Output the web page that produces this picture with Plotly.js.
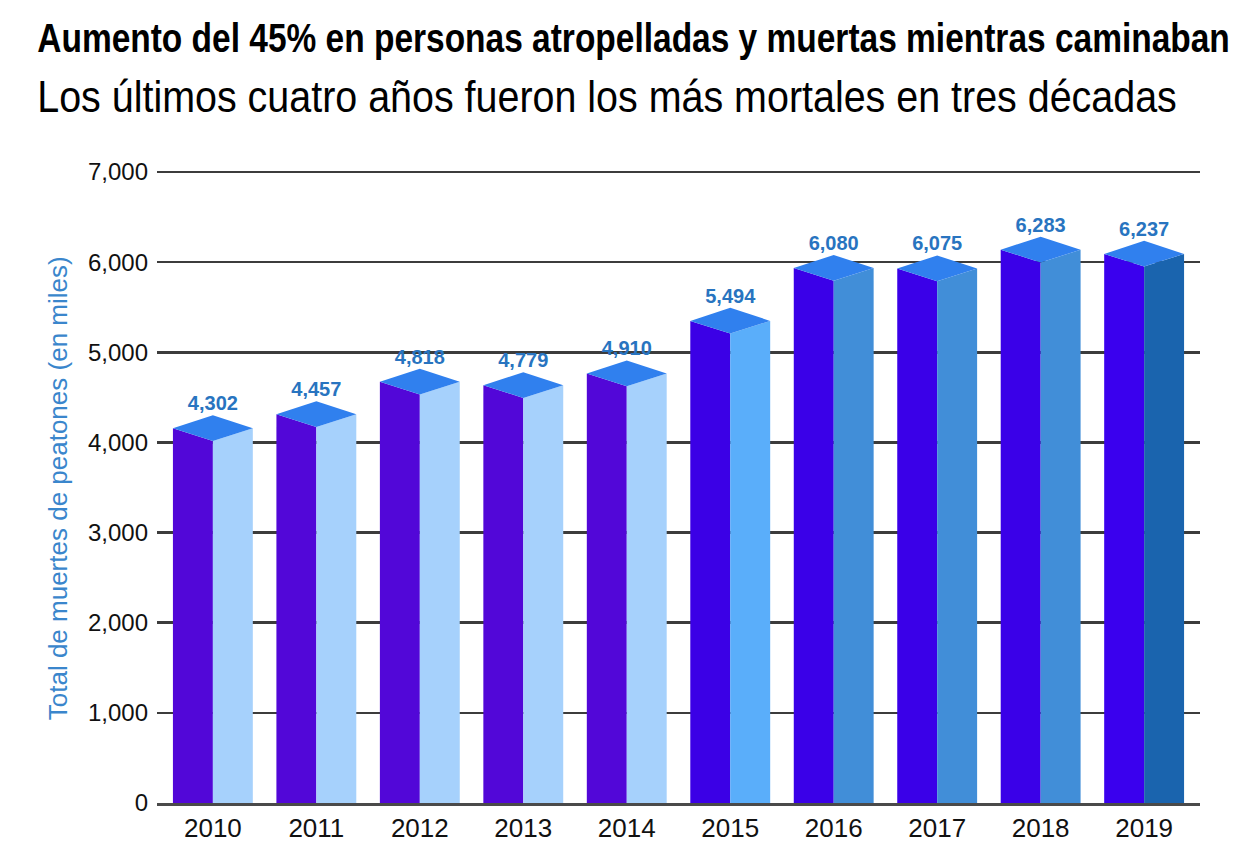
<!DOCTYPE html>
<html>
<head>
<meta charset="utf-8">
<script src="https://cdn.plot.ly/plotly-3.0.1.min.js"></script>
<style>
html,body{margin:0;padding:0;background:#fff;}
#chart{width:1237px;height:864px;}
</style>
</head>
<body>
<div id="chart"></div>
<script>
// ---- data ----
const years = ["2010","2011","2012","2013","2014","2015","2016","2017","2018","2019"];
const deaths = [4302, 4457, 4818, 4779, 4910, 5494, 6080, 6075, 6283, 6237];
const labels = ["4,302","4,457","4,818","4,779","4,910","5,494","6,080","6,075","6,283","6,237"];
const yTicks = [0, 1000, 2000, 3000, 4000, 5000, 6000, 7000];

// ---- styles ----
const leftColors = ["#5207d8","#5207d8","#5207d8","#5207d8","#5207d8","#3b00e6","#3a00e8","#3a00e8","#3a00e8","#3a00ee"];
const rightColors = ["#a6d1fc","#a6d1fc","#a6d1fc","#a6d1fc","#a6d1fc","#5aaefa","#418ed8","#418ed8","#418ed8","#1a64ae"];
const topColor = "#3080ee";
const labelColor = "#2874c0";
const sans = "'Liberation Sans', Arial, sans-serif";

const hw = 0.386;   // half width of a box (category units)
const d1 = 145;     // depth drop of side corners (data units)
const d2 = 285;     // depth drop of front corner (data units)

const traces = [];
deaths.forEach((v, i) => {
  const c = i;
  traces.push({
    type: "scatter", mode: "lines", fill: "toself", hoverinfo: "skip",
    x: [c - hw, c - hw, c, c, c - hw],
    y: [0, v - d1, v - d2, 0, 0],
    fillcolor: leftColors[i], line: {width: 0, color: leftColors[i]}, showlegend: false
  });
  traces.push({
    type: "scatter", mode: "lines", fill: "toself", hoverinfo: "skip",
    x: [c, c, c + hw, c + hw, c],
    y: [0, v - d2, v - d1, 0, 0],
    fillcolor: rightColors[i], line: {width: 0, color: rightColors[i]}, showlegend: false
  });
  traces.push({
    type: "scatter", mode: "lines", fill: "toself", hoverinfo: "skip",
    x: [c - hw, c, c + hw, c, c - hw],
    y: [v - d1, v - d2, v - d1, v, v - d1],
    fillcolor: topColor, line: {width: 0, color: topColor}, showlegend: false
  });
});

traces.push({
  type: "scatter", mode: "text",
  x: years.map((_, i) => i), y: deaths,
  text: labels, textposition: "top center",
  textfont: {family: sans, size: 20, color: labelColor, weight: 700},
  showlegend: false, hoverinfo: "skip"
});

const layout = {
  width: 1237, height: 864,
  margin: {l: 157, r: 37, t: 171, b: 61},
  paper_bgcolor: "#ffffff", plot_bgcolor: "#ffffff",
  showlegend: false,
  xaxis: {
    range: [-0.54, 9.54], tickvals: years.map((_, i) => i), ticktext: years,
    showgrid: false, zeroline: false, showline: true, linecolor: "#4a4a4a", linewidth: 2.5,
    ticks: "", tickfont: {family: sans, size: 26, color: "#111"}, fixedrange: true
  },
  yaxis: {
    range: [0, 7012], tickvals: yTicks, tickformat: ",d",
    showgrid: true, gridcolor: "#3c3c3c", gridwidth: 2.5, zeroline: false,
    ticks: "", ticklabelstandoff: 8,
    tickfont: {family: sans, size: 24, color: "#111"}, fixedrange: true
  },
  annotations: [
    {xref: "paper", yref: "paper", x: -0.117, y: (803 - 38) / 632, xanchor: "left", yanchor: "middle",
     text: "<b>Aumento del 45% en personas atropelladas y muertas mientras caminaban</b>", showarrow: false,
     font: {family: sans, size: 40, color: "#000"}},
    {xref: "paper", yref: "paper", x: -0.117, y: (803 - 96) / 632, xanchor: "left", yanchor: "middle",
     text: "Los últimos cuatro años fueron los más mortales en tres décadas", showarrow: false,
     font: {family: sans, size: 44, color: "#000"}},
    {xref: "paper", yref: "paper", x: (58 - 157) / 1043, y: 0.498, xanchor: "center", yanchor: "middle",
     textangle: -90, text: "Total de muertes de peatones (en miles)", showarrow: false,
     font: {family: sans, size: 26, color: "#3a86cc"}}
  ]
};

Plotly.newPlot("chart", traces, layout, {displayModeBar: false, staticPlot: true}).then(() => {
  // condense the two heading lines horizontally (the reference uses a condensed face)
  const targets = [1193, 1140];
  const texts = document.querySelectorAll("#chart .annotation-text");
  [0, 1].forEach(k => {
    const t = texts[k];
    if (!t) return;
    const w = t.getBBox().width;
    const s = Math.min(1, targets[k] / w);
    t.style.transformBox = "fill-box";
    t.style.transformOrigin = "0% 50%";
    t.style.transform = "scaleX(" + s + ")";
  });
});
</script>
</body>
</html>
